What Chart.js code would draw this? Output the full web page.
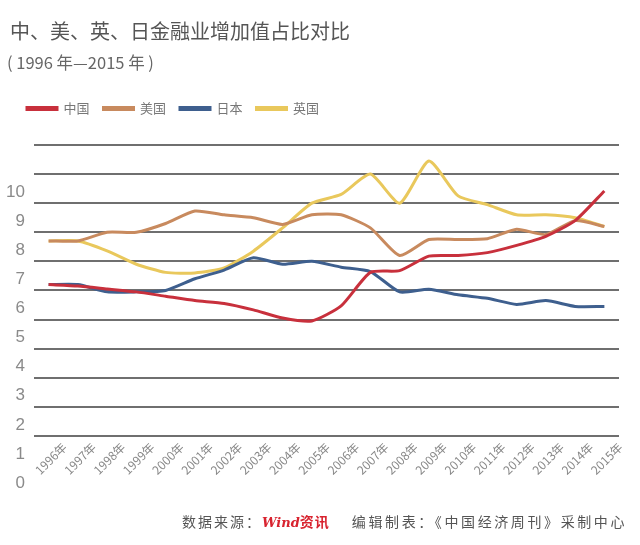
<!DOCTYPE html>
<html>
<head>
<meta charset="utf-8">
<script src="https://cdn.jsdelivr.net/npm/chart.js@4.4.1/dist/chart.umd.min.js"></script>
<style>
  body { margin: 0; background: #fff; font-family: "Noto Sans CJK SC", "Noto Sans", sans-serif; }
  #wrap { position: relative; width: 640px; height: 545px; overflow: hidden; }
  #chart { position: absolute; left: 0; top: 0; }
  .title { position: absolute; left: 10px; top: 16px; font-size: 20px; color: #555; white-space: nowrap; }
  .subtitle { position: absolute; left: 7px; top: 50px; font-size: 16.5px; color: #666; white-space: nowrap; }
  .footer { position: absolute; left: 182px; top: 511px; font-size: 14px; color: #555; white-space: nowrap; letter-spacing: 2px; }
  .footer .wind { color: #d8232f; font-weight: bold; font-style: italic; font-family: "DejaVu Serif", serif; letter-spacing: 0; font-size: 13px; }
  .footer .zx { color: #d8232f; font-weight: bold; letter-spacing: 1px; margin-right: 22px; }
  .footer .src { letter-spacing: 2.6px; }
</style>
</head>
<body>
<div id="wrap">
  <canvas id="chart" width="640" height="545"></canvas>
  <div class="title">中、美、英、日金融业增加值占比对比</div>
  <div class="subtitle">( 1996 年—2015 年 )</div>
  <div class="footer">数据来源：<span class="wind">Wind</span><span class="zx">资讯</span><span class="src">编辑制表：《中国经济周刊》采制中心</span></div>
</div>
<script>
// years on the x axis
const years = ['1996年', '1997年', '1998年', '1999年', '2000年', '2001年', '2002年', '2003年', '2004年', '2005年',
               '2006年', '2007年', '2008年', '2009年', '2010年', '2011年', '2012年', '2013年', '2014年', '2015年'];

// share of financial industry value added
const china = [7.2, 7.15, 7.05, 6.95, 6.8, 6.65, 6.55, 6.33, 6.05, 5.95, 6.47, 7.62, 7.68, 8.18, 8.2, 8.3, 8.55, 8.86, 9.4, 10.42];
const usa   = [8.7, 8.7, 9.0, 9.0, 9.3, 9.73, 9.6, 9.5, 9.27, 9.6, 9.6, 9.15, 8.2, 8.75, 8.75, 8.78, 9.1, 8.92, 9.4, 9.2];
const japan = [7.2, 7.2, 6.95, 6.95, 7.0, 7.4, 7.7, 8.12, 7.9, 8.0, 7.8, 7.65, 6.95, 7.04, 6.85, 6.73, 6.52, 6.65, 6.45, 6.45];
const uk    = [8.7, 8.7, 8.36, 7.9, 7.62, 7.6, 7.77, 8.35, 9.15, 10.0, 10.3, 11.0, 10.0, 11.45, 10.25, 9.95, 9.6, 9.6, 9.5, 9.2];

// y tick range (labels shown 0..10, grid drawn from 2 up)
const yMin = 0;
const yMax = 12;
const yLabelMax = 10;
const gridFrom = 2;

function series(label, data, color) {
    return {
        label: label,
        data: data,
        borderColor: color,
        backgroundColor: color,
        borderWidth: 3,
        pointRadius: 0,
        tension: 0.2
    };
}

// more room under the legend, and nudge it right of the y labels
const legendTweak = {
    id: 'legendTweak',
    beforeInit(chart) {
        const origFit = chart.legend.fit;
        chart.legend.fit = function fit() {
            origFit.bind(chart.legend)();
            this.height += 20;
        };
    },
    afterLayout(chart) {
        chart.legend.left += 8;
        chart.legend.right += 8;
    }
};

const ctx = document.getElementById('chart').getContext('2d');
new Chart(ctx, {
    type: 'line',
    data: {
        labels: years,
        datasets: [
            series('中国', china, '#c8303c'),
            series('美国', usa, '#c88a5e'),
            series('日本', japan, '#3e5f8e'),
            series('英国', uk, '#e9c85c')
        ]
    },
    plugins: [legendTweak],
    options: {
        responsive: false,
        animation: false,
        layout: { padding: { top: 88, left: 5, right: 21, bottom: 51 } },
        plugins: {
            legend: {
                position: 'top',
                align: 'start',
                labels: {
                    boxWidth: 30,
                    boxHeight: 2,
                    padding: 14,
                    color: '#777',
                    font: { family: '"Noto Sans CJK SC"', size: 13 }
                }
            },
            tooltip: { enabled: false }
        },
        scales: {
            x: {
                type: 'category',
                offset: true,
                position: { y: gridFrom },
                grid: { display: false, drawTicks: false },
                border: { display: false },
                ticks: {
                    autoSkip: false,
                    minRotation: 45,
                    maxRotation: 45,
                    labelOffset: 16,
                    padding: 4,
                    color: '#888',
                    font: { family: '"Noto Sans CJK SC"', size: 12 }
                }
            },
            y: {
                min: yMin,
                max: yMax,
                afterFit(scale) { scale.width = 29; },
                grid: {
                    drawTicks: false,
                    lineWidth: 2,
                    color: c => (c.tick && c.tick.value < gridFrom) ? 'rgba(0,0,0,0)' : '#6f6f6f'
                },
                border: { display: false },
                ticks: {
                    stepSize: 1,
                    padding: 9,
                    labelOffset: -11,
                    color: '#8a8a8a',
                    font: { family: '"Liberation Sans"', size: 17 },
                    callback: v => v <= yLabelMax ? v : ''
                }
            }
        }
    }
});
</script>
</body>
</html>
